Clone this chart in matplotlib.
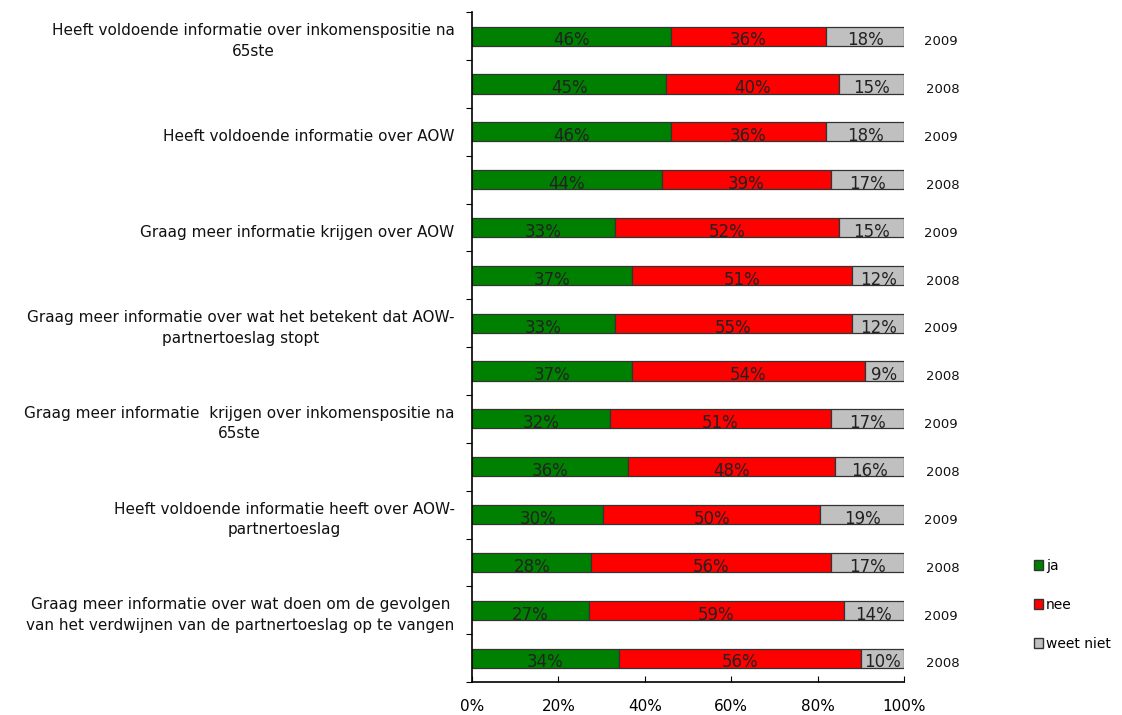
import numpy as np
import matplotlib
matplotlib.use("Agg")
import matplotlib.pyplot as plt
from matplotlib.patches import Patch

plt.rcParams['font.family'] = ['DejaVu Sans']

# Data, top to bottom
years = ["2009", "2008"] * 7
ja = [46, 45, 46, 44, 33, 37, 33, 37, 32, 36, 30.4, 27.6, 27, 34]
nee = [36, 40, 36, 39, 52, 51, 55, 54, 51, 48, 50.2, 55.6, 59, 56]
weet_niet = [18, 15, 18, 17, 15, 12, 12, 9, 17, 16, 19.4, 16.8, 14, 10]
questions = [
    "Heeft voldoende informatie over inkomenspositie na\n65ste",
    "Heeft voldoende informatie over AOW",
    "Graag meer informatie krijgen over AOW",
    "Graag meer informatie over wat het betekent dat AOW-\npartnertoeslag stopt",
    "Graag meer informatie  krijgen over inkomenspositie na\n65ste",
    "Heeft voldoende informatie heeft over AOW-\npartnertoeslag",
    "Graag meer informatie over wat doen om de gevolgen\nvan het verdwijnen van de partnertoeslag op te vangen",
]
series = [("ja", ja, "#008000"), ("nee", nee, "#FF0000"), ("weet niet", weet_niet, "#C0C0C0")]

fig = plt.figure(figsize=(11.22, 7.15), dpi=100)
ax = fig.add_axes([0.4207, 0.046, 0.385, 0.937])

y = np.arange(len(years))
left = np.zeros(len(years))
for name, vals, col in series:
    vals = np.array(vals) / 100.0
    ax.barh(y, vals, left=left, height=0.4, color=col, edgecolor="#333333", linewidth=0.9)
    for yi, l, v in zip(y, left, vals):
        ax.text(l + v / 2, yi + 0.09, f"{round(v * 100):.0f}%", ha="center", va="center",
                fontsize=12, color="#222222")
    left = left + vals

ax.set_xlim(0, 1)
ax.set_ylim(len(years) - 0.5, -0.5)
ax.set_xticks(np.linspace(0, 1, 6))
ax.set_xticklabels([f"{int(t * 100)}%" for t in np.linspace(0, 1, 6)], fontsize=11)
ax.set_yticks(np.arange(len(years) + 1) - 0.5)
ax.set_yticklabels([])
ax.tick_params(axis="x", direction="in", length=4, pad=12)
ax.tick_params(axis="y", direction="out", length=4)
for s in ["top", "right"]:
    ax.spines[s].set_visible(False)
for s in ["left", "bottom"]:
    ax.spines[s].set_linewidth(1.2)

# year labels on the right
for yi, yr in zip(y, years):
    dx = 1.085 if yr == "2009" else 1.09
    ax.text(dx, yi + 0.12, yr, ha="center", va="center", fontsize=9.5, color="#111111")

# question labels on the left, next to the 2009 bars
for i, q in enumerate(questions):
    ax.text(-0.04, 2 * i + 0.1, q, ha="right", va="center", multialignment="center",
            fontsize=11, color="#111111", linespacing=1.45)

handles = [Patch(facecolor=c, edgecolor="#333333", label=n) for n, _, c in series]
fig.legend(handles=handles, loc="upper left", bbox_to_anchor=(0.91, 0.236), frameon=False,
           handlelength=0.7, handleheight=0.7, handletextpad=0.2, labelspacing=1.8, fontsize=10)

fig.savefig("out.png", dpi=100)
